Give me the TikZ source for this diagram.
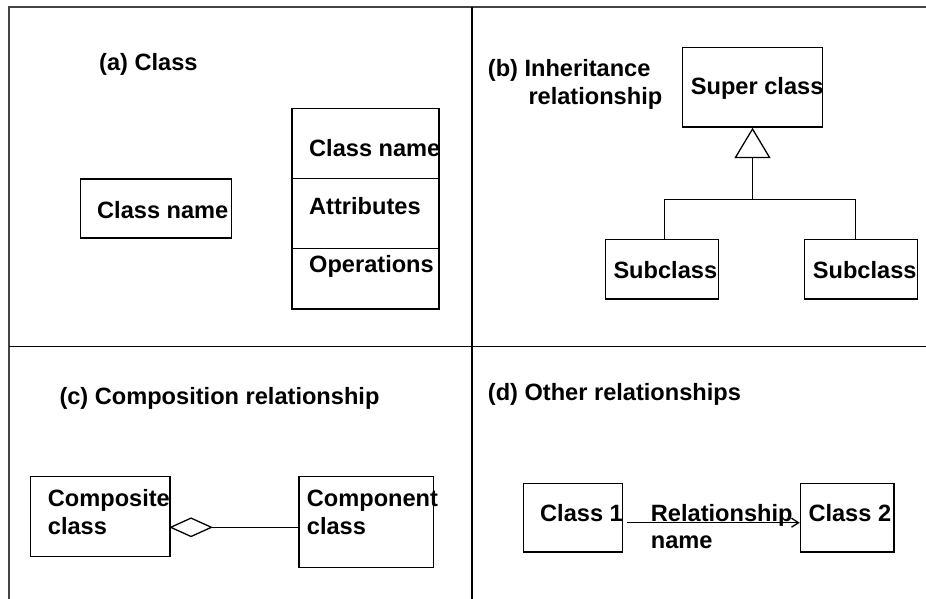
\documentclass[tikz,border=0pt]{standalone}
\usepackage{fontspec}
\setmainfont{Liberation Sans}
\usetikzlibrary{arrows.meta}
\definecolor{framegray}{HTML}{444444}
\begin{document}
\begin{tikzpicture}[x=1pt,y=-1pt,
  every node/.style={font=\fontsize{23.6}{28}\selectfont\bfseries},
  box/.style={draw, line width=1.3pt, inner sep=0pt},
  lbl/.style={anchor=base west, inner sep=0pt},
  conn/.style={line width=1.3pt},
  frameline/.style={draw=framegray, line width=2pt},
  divider/.style={draw=black, line width=1.8pt}]
\useasboundingbox (0,0) rectangle (926,599);

% panel frame and dividers
\coordinate (tl) at (9,7);
\coordinate (tr) at (926,7);
\coordinate (bl) at (9,599);
\draw[frameline] (bl) -- (tl) -- (tr);
\coordinate (vt) at (471.7,7);
\coordinate (vb) at (471.7,599);
\coordinate (hl) at (9,346.5);
\coordinate (hr) at (926,346.5);
\draw[divider] (vt) -- (vb);
\draw[divider] (hl) -- (hr);

% (a) class notation
\node[lbl] (ta) at (99,71) {(a) Class};
\node[box, minimum width=151pt, minimum height=59pt] (cn) at (156.2,208.5) {};
\node[lbl] (cnt) at (97,218) {Class name};
\node[box, minimum width=147pt, minimum height=200.7pt] (cls) at (365.5,208.7) {};
\draw[conn] (cls.west |- 0,178.3) -- (cls.east |- 0,178.3);
\draw[conn] (cls.west |- 0,248.7) -- (cls.east |- 0,248.7);
\node[lbl] (clsn) at (309,157) {Class name};
\node[lbl] (clsa) at (309,214) {Attributes};
\node[lbl] (clso) at (309,272) {Operations};

% (b) inheritance
\node[lbl] (tb1) at (487.7,76.7) {(b) Inheritance};
\node[lbl] (tb2) at (528.3,105) {relationship};
\node[box, minimum width=139.6pt, minimum height=79.7pt] (sup) at (752.5,87.2) {};
\node[lbl] (supt) at (690.7,95) {Super class};
\node[box, minimum width=113pt, minimum height=59.7pt] (sub1) at (661.8,269.2) {};
\node[box, minimum width=113.4pt, minimum height=59.7pt] (sub2) at (861,269.2) {};
\node[lbl] (sub1t) at (613.3,278.3) {Subclass};
\node[lbl] (sub2t) at (812.7,278.3) {Subclass};
% open triangle of the generalisation arrow, pointing at the super class
\coordinate (apex) at ([yshift=-1.3pt]sup.south);
\draw[conn, line join=miter] (apex) -- ++(-17,28.4) -- ++(34,0) -- cycle;
\coordinate (tri) at ([yshift=-29.7pt]sup.south);
\coordinate (jn) at ([yshift=-42.3pt]tri);
\draw[conn] (tri) -- (jn);
\draw[conn] ([xshift=2.9pt]sub1.north) |- (jn) -| ([xshift=-5.3pt]sub2.north);

% (c) composition
\node[lbl] (tc) at (59.3,404) {(c) Composition relationship};
\node[box, minimum width=139.7pt, minimum height=80pt] (comp) at (100.2,516.7) {};
\node[box, minimum width=134.3pt, minimum height=90.6pt] (cmpn) at (366.2,522) {};
\node[lbl] (compt1) at (47.7,506) {Composite};
\node[lbl] (compt2) at (47.7,534) {class};
\node[lbl] (cmpnt1) at (306.7,506) {Component};
\node[lbl] (cmpnt2) at (306.7,534) {class};
\coordinate (dl) at (comp.east |- 0,527.3);
\coordinate (dr) at ([xshift=40.7pt]dl);
\draw[conn, line join=miter] (dl) -- ++(20.35,-9.2) -- (dr) -- ++(-20.35,9.2) -- cycle;
\draw[conn] (dr) -- (cmpn.west |- dr);

% (d) other relationships
\node[lbl] (td) at (487.7,400) {(d) Other relationships};
\node[box, minimum width=99pt, minimum height=68.7pt] (c1) at (573.2,517.7) {};
\node[box, minimum width=93.7pt, minimum height=68.7pt] (c2) at (847.2,517.7) {};
\node[lbl] (c1t) at (540,521.7) {Class 1};
\node[lbl] (c2t) at (808.3,521.7) {Class 2};
\draw[conn, -{Straight Barb[length=7pt,width=9pt,line width=1.3pt]}]
  ([xshift=4pt]c1.east |- 0,522.7) -- (c2.west |- 0,522.7);
\node[lbl] (rt1) at (650.7,521.7) {Relationship};
\node[lbl] (rt2) at (650.7,548.3) {name};
\end{tikzpicture}
\end{document}
